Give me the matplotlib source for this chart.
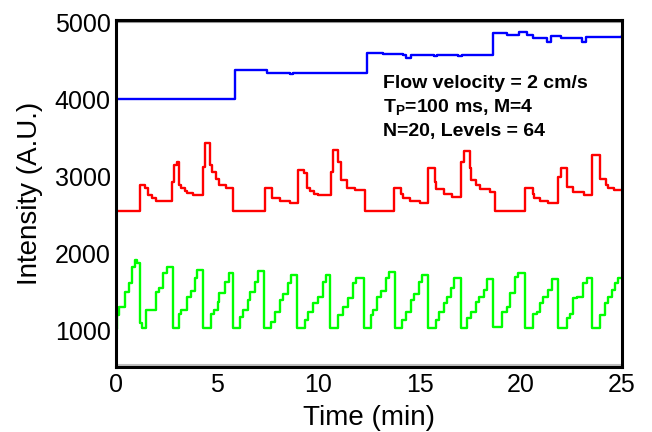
import matplotlib
matplotlib.use("Agg")
import matplotlib.pyplot as plt

plt.rcParams["font.family"] = ["Liberation Sans", "DejaVu Sans"]
plt.rcParams["mathtext.fontset"] = "custom"
plt.rcParams["mathtext.rm"] = "Liberation Sans"
plt.rcParams["mathtext.bf"] = "Liberation Sans:bold"

# blue trace (step values, min / A.U.)
blue_t = [0, 5.88, 7.46, 8.6, 8.75, 9.35, 9.5, 12.2, 12.4, 13.2, 14.2, 14.35, 14.55,
          15.7, 15.85, 16.9, 17.1, 18.65, 19.3, 19.9, 20.3, 20.6, 21.3, 21.5, 22.0,
          22.8, 23.0, 23.2, 25]
blue_v = [4000, 4375, 4345, 4330, 4345, 4335, 4345, 4345, 4600, 4590, 4575, 4540, 4570,
          4560, 4575, 4555, 4570, 4860, 4840, 4870, 4830, 4790, 4745, 4815, 4800,
          4790, 4745, 4810, 4820]

# red trace
red_t = [0, 1.17, 1.42, 1.57, 1.8, 1.98, 2.77, 2.85, 3.0, 3.1, 3.2, 3.4, 3.5, 3.8,
         4.28, 4.4, 4.65, 4.72, 4.95, 5.1, 5.45,
         5.77, 7.35, 7.72, 8.1, 8.6, 9.0, 9.3, 9.45, 9.6, 9.8, 10.0, 10.6, 10.7, 10.95,
         11.1, 11.4, 11.8,
         12.3, 13.75, 14.1, 14.2, 14.5, 15.0, 15.4, 15.75, 15.8, 16.2, 16.6, 17.06, 17.2,
         17.5, 17.55, 17.8, 18.0, 18.5,
         18.7, 20.2, 20.6, 20.65, 20.95, 21.35, 21.82, 22.0, 22.3, 22.6, 23.1, 23.5, 23.9,
         24.2, 24.3, 24.6, 25]
red_v = [2545, 2880, 2840, 2755, 2715, 2675, 2920, 3140, 3180, 2880, 2845, 2805, 2780, 2755,
         3120, 3430, 3145, 3050, 2960, 2885, 2845,
         2545, 2845, 2715, 2675, 2650, 3080, 3040, 2845, 2805, 2765, 2750, 3050, 3340, 3180,
         2950, 2845, 2820,
         2545, 2845, 2765, 2715, 2675, 2650, 3105, 2920, 2830, 2765, 2725, 3180, 3325,
         3100, 2950, 2885, 2830, 2790,
         2545, 2845, 2765, 2715, 2675, 2650, 2990, 3105, 2855, 2790, 2755, 3275, 2960,
         2885, 2845, 2820, 2820]

# green trace
green_t = [0, 0.05, 0.13, 0.46, 0.63, 0.79, 0.95, 1.05, 1.2, 1.28, 1.5, 1.96, 2.1, 2.3, 2.5,
           2.8, 3.1, 3.2, 3.5, 3.7, 3.9, 4.0, 4.28, 4.7, 4.85, 5.05, 5.1, 5.4, 5.6,
           5.77, 6.1, 6.27, 6.52, 6.6, 6.85, 7.0, 7.31, 7.67, 7.84, 8.08, 8.25, 8.5, 8.66,
           8.96, 9.32, 9.48, 9.73, 9.98, 10.23, 10.39, 10.59, 10.97, 11.22, 11.46, 11.71,
           11.87, 12.25, 12.6, 12.7, 12.9, 13.07, 13.32, 13.5, 13.77, 14.15, 14.31, 14.56,
           14.72, 14.97, 15.13, 15.41, 15.79, 15.96, 16.2, 16.37, 16.53, 16.7, 17.06, 17.36,
           17.52, 17.77, 17.94, 18.18, 18.35, 18.64, 19.06, 19.3, 19.47, 19.72, 19.88,
           20.21, 20.62, 20.78, 20.95, 21.1, 21.35, 21.52, 21.85, 22.27, 22.43, 22.6, 22.76,
           23.09, 23.25, 23.5, 23.91, 24.16, 24.33, 24.5, 24.66, 24.82, 25]
green_v = [1020, 1195, 1295, 1500, 1605, 1820, 1910, 1870, 1090, 1025, 1260, 1500, 1540, 1740,
           1820, 1025, 1215, 1260, 1430, 1510, 1670, 1780, 1025, 1215, 1260, 1370, 1475,
           1630, 1740, 1025, 1175, 1260, 1390, 1500, 1630, 1770, 1025, 1110, 1240, 1390,
           1465, 1605, 1715, 1025, 1135, 1240, 1345, 1435, 1630, 1715, 1025, 1195, 1305,
           1410, 1605, 1670, 1025, 1195, 1260, 1435, 1510, 1670, 1760, 1025, 1135, 1240,
           1390, 1465, 1630, 1715, 1025, 1135, 1240, 1345, 1435, 1540, 1670, 1025, 1155,
           1240, 1370, 1435, 1520, 1660, 1045, 1240, 1300, 1475, 1690, 1740, 1025, 1215,
           1240, 1345, 1435, 1520, 1660, 1025, 1155, 1215, 1410, 1435, 1605, 1670, 1025,
           1195, 1345, 1435, 1520, 1605, 1670, 1670]

x_ticks = [0, 5, 10, 15, 20, 25]
y_ticks = [1000, 2000, 3000, 4000, 5000]

fig = plt.figure(figsize=(6.52, 4.32), dpi=100)
ax = fig.add_axes([0.178, 0.1505, 0.776, 0.803])

ax.plot(blue_t, blue_v, color="#0000ff", lw=1.7, drawstyle="steps-post")
ax.plot(red_t, red_v, color="#ff0000", lw=1.7, drawstyle="steps-post")
ax.plot(green_t, green_v, color="#00ff00", lw=1.7, drawstyle="steps-post")

ax.set_xlim(0, 25)
ax.set_ylim(520, 5028)
ax.set_xticks(x_ticks)
ax.set_yticks(y_ticks)
ax.tick_params(length=0, labelsize=18, pad=4)
for s in ax.spines.values():
    s.set_linewidth(2.2)
    s.set_color("black")

# thin grey rule just inside top and bottom frame
ax.plot([0, 1], [0.994, 0.994], transform=ax.transAxes, color="0.6", lw=1.5)
ax.plot([0, 1], [0.006, 0.006], transform=ax.transAxes, color="0.75", lw=1.5)

ax.set_xlabel("Time (min)", fontsize=20, labelpad=6)
ax.set_ylabel("Intensity (A.U.)", fontsize=20, labelpad=8)

ax.text(0.528, 0.804, "Flow velocity = 2 cm/s", transform=ax.transAxes,
        fontsize=14, fontweight="bold", va="baseline")
ax.text(0.528, 0.735, r"$\mathbf{T_P}$=100 ms, M=4", transform=ax.transAxes,
        fontsize=14, fontweight="bold", va="baseline")
ax.text(0.528, 0.666, "N=20, Levels = 64", transform=ax.transAxes,
        fontsize=14, fontweight="bold", va="baseline")

fig.savefig("out.png", dpi=100)
